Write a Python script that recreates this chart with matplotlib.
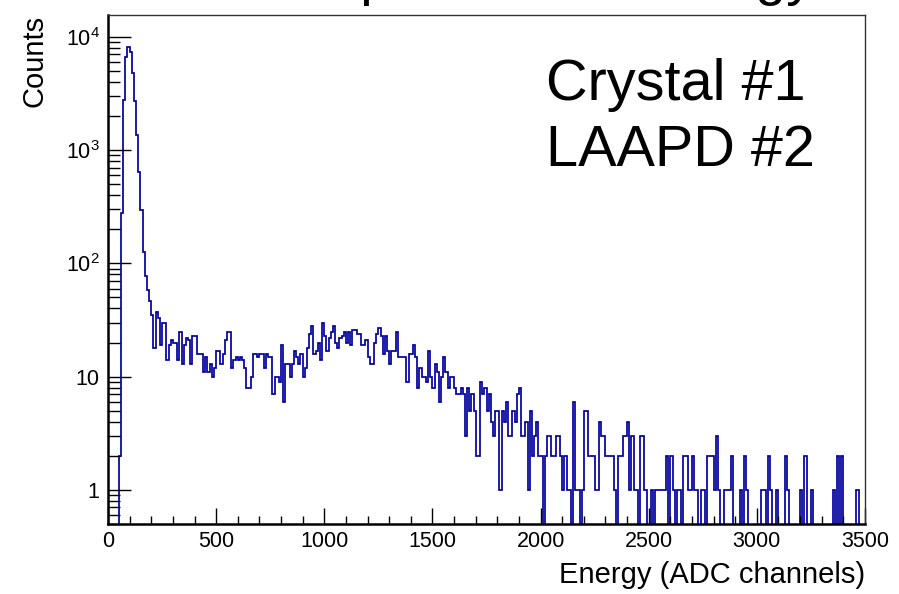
import numpy as np
import matplotlib
matplotlib.use("Agg")
from matplotlib import pyplot as plt
from matplotlib.ticker import FixedLocator, FixedFormatter, MultipleLocator

plt.rcParams['font.family'] = ['Liberation Sans', 'DejaVu Sans']
plt.rcParams['mathtext.fontset'] = 'custom'
plt.rcParams['mathtext.rm'] = 'Liberation Sans'

# binning: 350 bins of 10 ADC channels
bin_lo, bin_hi, bin_w = 0, 3500, 10

# counts per bin
peak_counts = [0, 0, 0, 0, 0, 2, 279, 2770, 6650, 8150, 7400, 4800, 2690, 1360, 646,
               295, 127, 78, 58, 47, 35]
low_counts = [18, 37, 33, 19, 30, 30, 14, 19, 21, 20,
              20, 14, 25, 13, 19, 22, 21, 13, 23, 23,
              16, 16, 16, 11, 15, 11, 13, 10, 12, 17,
              17, 13, 16, 21, 25, 25, 12, 14, 15, 14,
              15, 14, 12, 8, 8, 10, 16, 16, 15, 16,
              16, 12, 16, 15, 15, 7, 10, 10, 9, 19,
              6]
hump_counts = [13, 13, 10, 13, 17, 15, 13, 16, 10, 12,
               18, 24, 28, 16, 17, 20, 14, 30, 23, 17,
               22, 25, 28, 20, 18, 22, 23, 25, 20, 25,
               19, 26, 26, 24, 24, 19, 19, 21, 15, 13,
               13, 20, 24, 27, 23, 16, 23, 17, 13, 17,
               17, 25, 15, 15, 15, 15, 9, 16, 16, 19,
               15, 8, 12, 10, 10, 9, 17, 10, 8, 13,
               11, 6, 10, 15, 11, 8, 10, 10, 8, 7,
               7, 8, 7]
tail_counts = [3, 8, 5, 7, 5, 2, 2, 9, 7, 8,
               5, 7, 4, 3, 5, 5, 1, 5, 4, 6,
               3, 3, 5, 4, 7, 8, 3, 3, 4, 1,
               5, 2, 3, 4, 2,
               2, 0, 2, 3, 3, 2, 2, 3, 3, 2,
               1, 2, 1, 1, 0, 6, 1, 1, 0, 1,
               5, 5, 2, 2, 2, 1, 1, 4, 3, 3,
               2, 2, 2, 2, 1, 0, 2, 2, 3, 3,
               4, 1, 3, 1, 1, 0]
sparse_counts = [3, 3, 1, 0, 0, 1, 0, 1, 1, 1,
                 1, 1, 2, 0, 2, 1, 0, 1, 1, 0,
                 2, 2, 1, 1, 2, 1, 1, 0, 1, 1,
                 0, 2, 2, 2, 1, 3, 1, 0, 0, 1,
                 1, 1, 2, 0, 0, 0, 1, 0, 2, 1,
                 0, 0, 0, 0, 0, 0, 1, 1, 0, 2,
                 1, 0, 0, 1, 0, 0, 0, 2, 1, 0,
                 0, 0, 0, 0, 1, 0, 2, 0, 0, 1,
                 0, 0, 0, 0, 0, 0, 0, 0, 0, 1,
                 0, 2, 0, 2, 0, 0, 0, 0, 0, 0,
                 1, 0, 0, 0]

counts = np.array(peak_counts + low_counts + hump_counts + tail_counts + sparse_counts, dtype=float)
edges = np.arange(bin_lo, bin_hi + bin_w, bin_w)

ytick_vals = [1, 10, 100, 1000, 10000]
ytick_labels = ['1', '10', r'$10^{2}$', r'$10^{3}$', r'$10^{4}$']

fig = plt.figure(figsize=(8.99, 5.94), dpi=100)
ax = fig.add_axes([108 / 899, 1 - 524 / 594, 757 / 899, 509 / 594])

# empty bins drop below the axis like ROOT does
draw_counts = np.where(counts > 0, counts, 1e-3)
ax.stairs(draw_counts, edges, color='#00009e', linewidth=1.25, baseline=None)

ax.set_yscale('log')
ax.set_xlim(bin_lo, bin_hi)
ax.set_ylim(0.5, 15600)

ax.xaxis.set_major_locator(MultipleLocator(500))
ax.xaxis.set_minor_locator(MultipleLocator(100))
ax.yaxis.set_major_locator(FixedLocator(ytick_vals))
ax.yaxis.set_major_formatter(FixedFormatter(ytick_labels))
minor_y = [m * 10 ** d for d in range(-1, 5) for m in range(2, 10)]
ax.yaxis.set_minor_locator(FixedLocator(minor_y))
ax.yaxis.set_minor_formatter(FixedFormatter([''] * len(minor_y)))

ax.tick_params(axis='x', which='major', direction='in', length=11.5, width=1, labelsize=15.5, pad=5)
ax.tick_params(axis='x', which='minor', direction='in', length=5.5, width=1)
ax.tick_params(axis='y', which='major', direction='in', length=16.5, width=1, labelsize=15.5, pad=6)
ax.tick_params(axis='y', which='minor', direction='in', length=8.5, width=1)

for side in ['left', 'bottom']:
    ax.spines[side].set_linewidth(1.8)
for side in ['top', 'right']:
    ax.spines[side].set_linewidth(1.0)
    ax.spines[side].set_color('#333333')

fig.text(865 / 899, 1 - 575 / 594, 'Energy (ADC channels)', ha='right', va='center', fontsize=21)
fig.text(35 / 899, 1 - 15 / 594, 'Counts', ha='center', va='top', rotation=90, fontsize=21)

ax.text(546 / 899, 1 - 100 / 594, 'Crystal #1', transform=fig.transFigure, fontsize=41.5, va='baseline')
ax.text(546 / 899, 1 - 166 / 594, 'LAAPD #2', transform=fig.transFigure, fontsize=41.5, va='baseline')

# title sits above the canvas, only the descenders show
fig.text(206 / 899, 1 + 6 / 594, 'Raw spectrum of Energy', ha='left', va='baseline', fontsize=40)

fig.savefig('out.png', dpi=100)
